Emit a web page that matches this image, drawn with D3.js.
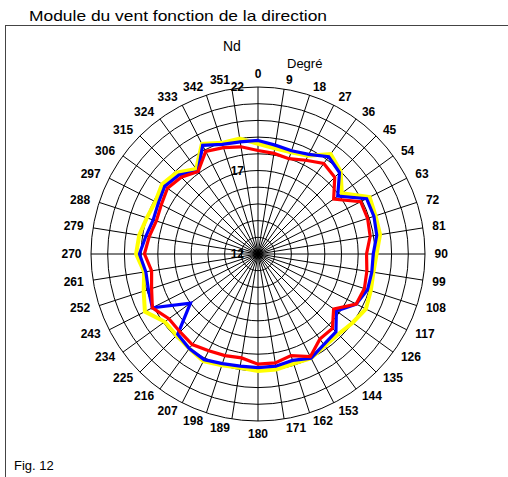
<!DOCTYPE html>
<html>
<head>
<meta charset="utf-8">
<script src="https://cdn.jsdelivr.net/npm/d3@7"></script>
<style>
  body { margin: 0; background: #fff; }
  svg { display: block; font-family: "Liberation Sans", Arial, sans-serif; }
</style>
</head>
<body>
<div id="chart"></div>
<script>
// directions in degrees, every 9
var directions = d3.range(0, 360, 9);
// wind module per direction
var yellowSeries = [18.6, 18.4, 18.4, 18.6, 19.4, 19.0, 18.2, 19.5, 19.4, 19.4,
                    19.1, 19.0, 19.1, 19.25, 19.0, 18.8, 18.8, 19.0, 18.9, 19.0,
                    19.0, 18.9, 19.0, 19.2, 19.0, 18.9, 18.9, 19.6, 19.2, 18.9,
                    19.3, 19.2, 19.0, 18.9, 19.1, 18.9, 18.3, 19.4, 19.0, 19.0];
var blueSeries   = [18.8, 18.6, 18.5, 18.7, 19.2, 18.9, 17.9, 19.3, 19.3, 19.2,
                    18.9, 18.9, 18.9, 18.6, 17.8, 18.6, 18.7, 19.0, 18.7, 18.8,
                    18.8, 18.8, 18.9, 19.1, 19.0, 18.8, 17.0, 19.1, 18.9, 18.8,
                    19.1, 18.8, 18.6, 18.7, 18.9, 18.7, 18.1, 19.3, 18.9, 18.8];
var redSeries    = [18.2, 18.1, 18.0, 18.3, 18.7, 18.5, 17.6, 18.9, 18.9, 18.8,
                    18.5, 18.6, 18.7, 18.6, 17.6, 18.3, 18.3, 18.9, 18.4, 18.6,
                    18.6, 18.3, 18.4, 18.5, 18.7, 18.6, 18.6, 19.1, 18.7, 18.45,
                    18.8, 18.6, 18.4, 18.5, 18.7, 18.5, 18.1, 18.9, 18.7, 18.5];
var radialTicks = [12, 17, 22];

var width = 508, height = 477;
var cx = 258, cy = 254, R = 167;

var svg = d3.select("#chart").append("svg")
    .attr("width", width).attr("height", height);

// frame + titles
svg.append("rect").attr("x", 5.5).attr("y", 25.5)
    .attr("width", 540).attr("height", 480)
    .attr("fill", "none").attr("stroke", "#444").attr("stroke-width", 1);
svg.append("text").attr("x", 29).attr("y", 21).attr("font-size", 15)
    .attr("textLength", 298).attr("lengthAdjust", "spacingAndGlyphs")
    .text("Module du vent fonction de la direction");
svg.append("text").attr("x", 14).attr("y", 470).attr("font-size", 13)
    .text("Fig. 12");

var g = svg.append("g").attr("transform", `translate(${cx},${cy})`);

var r = d3.scaleLinear().domain([12, 22]).range([0, R]);
var ang = d3.scaleLinear().domain([0, 360]).range([0, 2 * Math.PI]);

// rings
g.selectAll("circle.ring").data(d3.range(13, 23)).enter().append("circle")
    .attr("class", "ring").attr("r", d => r(d))
    .attr("fill", "none").attr("stroke", "#000").attr("stroke-width", 1);

// spokes
g.selectAll("line.spoke").data(directions).enter().append("line")
    .attr("class", "spoke")
    .attr("x1", 0).attr("y1", 0)
    .attr("x2", d => R * Math.sin(ang(d)))
    .attr("y2", d => -R * Math.cos(ang(d)))
    .attr("stroke", "#000").attr("stroke-width", 1);

// series
var line = d3.lineRadial()
    .angle((d, i) => ang(directions[i]))
    .radius(d => r(d))
    .curve(d3.curveLinearClosed);

[[yellowSeries, "#ffff00", 4], [blueSeries, "#0000ff", 3.2], [redSeries, "#ff0000", 3.2]]
  .forEach(function(s) {
    g.append("path").datum(s[0]).attr("d", line)
      .attr("fill", "none").attr("stroke", s[1]).attr("stroke-width", s[2])
      .attr("stroke-linejoin", "miter");
  });

// direction labels: side anchored like the spreadsheet does it
var LR = R + 9;
g.selectAll("text.dir").data(directions).enter().append("text")
    .attr("class", "dir").attr("font-size", 12).attr("font-weight", "bold")
    .attr("text-anchor", d => (d === 0 || d === 180) ? "middle" : (d < 180 ? "start" : "end"))
    .attr("dominant-baseline", "central")
    .attr("x", d => LR * Math.sin(ang(d)) + (d === 0 || d === 180 ? 0 : (d < 180 ? 0.5 : -0.5)))
    .attr("y", d => -LR * Math.cos(ang(d)) + (d === 0 ? -4 : d === 180 ? 4 : 0))
    .text(d => d);

// radial labels
g.selectAll("text.rad").data(radialTicks).enter().append("text")
    .attr("class", "rad").attr("font-size", 12).attr("font-weight", "bold")
    .attr("text-anchor", "end").attr("dominant-baseline", "central")
    .attr("x", -14).attr("y", d => -r(d))
    .text(d => d);

svg.append("text").attr("x", 223).attr("y", 51).attr("font-size", 14).text("Nd");
svg.append("text").attr("x", 287).attr("y", 68).attr("font-size", 13).text("Degré");
</script>
</body>
</html>
